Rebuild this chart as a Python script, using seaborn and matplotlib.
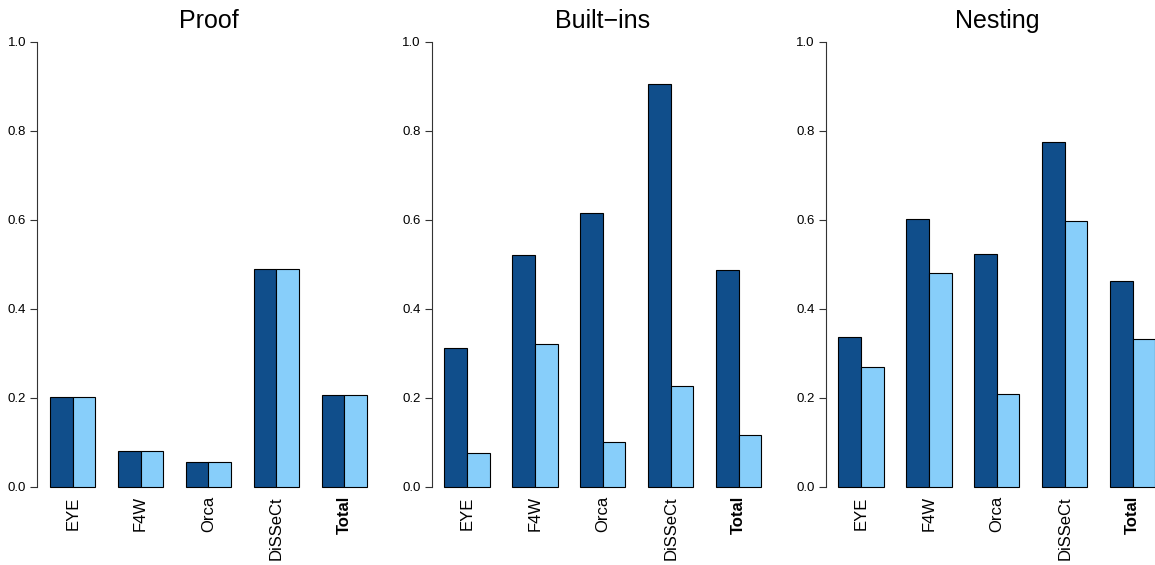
import pandas as pd
import numpy as np
import seaborn as sns
import matplotlib.pyplot as plt

sns.set_style("ticks")
plt.rcParams['font.family'] = ['Liberation Sans', 'DejaVu Sans']
plt.rcParams['text.color'] = 'black'
plt.rcParams['xtick.color'] = 'black'
plt.rcParams['ytick.color'] = 'black'

# data
tools = ['EYE', 'F4W', 'Orca', 'DiSSeCt', 'Total']
panels = ['Proof', 'Built\u2212ins', 'Nesting']
proof_dark = [0.202, 0.080, 0.055, 0.489, 0.205]
proof_light = [0.202, 0.080, 0.055, 0.489, 0.205]
builtins_dark = [0.311, 0.520, 0.616, 0.906, 0.486]
builtins_light = [0.076, 0.321, 0.100, 0.227, 0.117]
nesting_dark = [0.337, 0.601, 0.524, 0.774, 0.462]
nesting_light = [0.268, 0.480, 0.208, 0.596, 0.331]

series = [(proof_dark, proof_light), (builtins_dark, builtins_light), (nesting_dark, nesting_light)]
colors = ['#104E8B', '#87CEFA']

fig = plt.figure(figsize=(11.55, 5.65), dpi=100)
lefts = [37.3, 431.6, 825.6]

for k, (title, (dark, light)) in enumerate(zip(panels, series)):
    ax = fig.add_axes([lefts[k] / 1155, 0.1071, 342.4 / 1155, 0.8506])
    df = pd.DataFrame({'tool': tools * 2,
                       'value': dark + light,
                       'series': ['dark'] * 5 + ['light'] * 5})
    sns.barplot(data=df, x='tool', y='value', hue='series', order=tools,
                palette=colors, saturation=1, width=2 / 3, gap=0,
                edgecolor='black', linewidth=0.8, legend=False, ax=ax)
    ax.set_xlim(-0.52, 4.52)
    ax.set_ylim(-0.04, 1.04)
    ax.set_yticks(np.arange(0, 1.01, 0.2))
    ax.set_yticklabels(['%.1f' % v for v in np.arange(0, 1.01, 0.2)], fontsize=9.5)
    ax.spines['left'].set_bounds(0, 1)
    ax.spines['left'].set_color('#333333')
    for s in ['top', 'right', 'bottom']:
        ax.spines[s].set_visible(False)
    ax.tick_params(axis='y', length=5, width=0.8, color='#333333', pad=3)
    ax.set_xticks(range(len(tools)))
    ax.set_xticklabels(tools, rotation=90, fontsize=12)
    ax.get_xticklabels()[-1].set_fontweight('bold')
    ax.tick_params(axis='x', length=0, pad=-6)
    ax.set_xlabel('')
    ax.set_ylabel('')
    # title placed by hand, R puts it close to the plot region
    cx = (lefts[k] + 342.4 / 2) / 1155
    fig.text(cx, 1 - 28 / 565, title, fontsize=18, ha='center', va='baseline')

fig.savefig('out.png', dpi=100)
